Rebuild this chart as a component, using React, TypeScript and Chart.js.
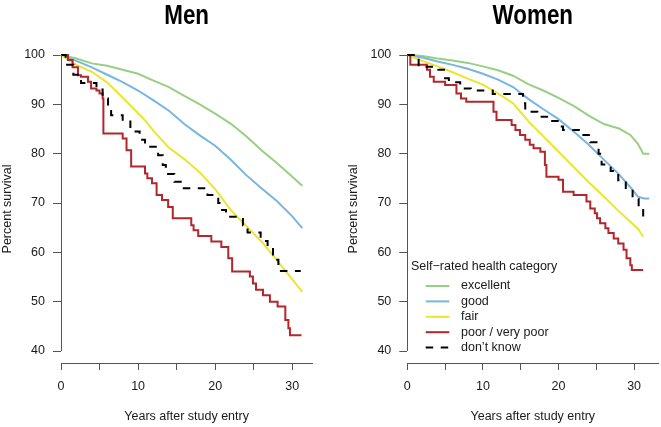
import React, { useEffect, useRef } from 'react';
import { Chart, registerables } from 'chart.js';

Chart.register(...registerables);

const FONT = "'Liberation Sans', Arial, Helvetica, sans-serif";
const TITLE_FONT = "'Liberation Sans', Arial, Helvetica, sans-serif";

// ---------- text ----------
const categories = ['excellent', 'good', 'fair', 'poor / very poor', 'don’t know'];
const legendTitle = 'Self−rated health category';
const xAxisTitle = 'Years after study entry';
const yAxisTitle = 'Percent survival';
const xTickValues = [0, 5, 10, 15, 20, 25, 30];
const xLabelEvery = 10;
const yTickValues = [40, 50, 60, 70, 80, 90, 100];

// ---------- Men ----------
const menExcellentYears = [0, 2, 4, 6, 8, 10, 12, 14, 16, 18, 20, 22, 24, 26, 28, 30, 31.3];
const menExcellentSurv = [100, 99.3, 98.3, 97.8, 97.0, 96.2, 94.8, 93.5, 91.7, 90.0, 88.1, 86.1, 83.6, 80.7, 78.1, 75.3, 73.5];

const menGoodYears = [0, 2, 4, 6, 8, 10, 12, 14, 16, 18, 20, 22, 24, 26, 28, 30, 31.3];
const menGoodSurv = [100, 98.8, 97.5, 96.0, 94.5, 92.8, 90.8, 88.7, 86.0, 83.7, 81.6, 78.8, 75.7, 73.0, 70.4, 67.3, 64.9];

const menFairYears = [0, 1, 2, 4, 6, 8, 10, 11, 12, 14, 16, 18, 20, 22, 24, 26, 28, 30, 31.3];
const menFairSurv = [100, 99.0, 98.0, 96.6, 94.4, 91.4, 88.2, 86.6, 84.6, 81.2, 78.9, 76.2, 72.8, 68.6, 65.4, 62.2, 58.4, 54.5, 52.0];

const menPoorYears = [0, 0.9, 1.5, 2.2, 2.6, 3.5, 3.9, 4.6, 5.0, 5.4, 5.5, 8.0, 8.5, 9.1, 10.9, 11.2, 11.8, 12.4, 13.1, 13.9, 14.5, 16.9, 17.2, 17.8, 19.5, 20.8, 21.7, 22.2, 24.5, 24.9, 25.3, 26.2, 27.1, 28.1, 29.1, 29.5, 29.7, 31.2];
const menPoorSurv = [100, 99.0, 97.5, 95.9, 95.6, 94.6, 93.2, 92.8, 92.2, 91.2, 84.1, 83.1, 80.7, 77.4, 76.0, 75.0, 74.0, 71.6, 70.6, 69.2, 66.9, 65.5, 64.5, 63.3, 62.2, 61.1, 58.8, 56.1, 55.1, 53.7, 52.4, 51.3, 50.0, 49.0, 46.3, 44.6, 43.2, 43.2];

const menDontKnowYears = [0, 0.6, 1.6, 2.6, 4.6, 5.4, 6.1, 6.5, 8.0, 9.0, 10.2, 10.9, 12.6, 13.2, 13.6, 14.7, 15.7, 19.0, 20.4, 20.9, 21.4, 23.6, 24.2, 25.9, 26.8, 27.5, 28.2, 31.1];
const menDontKnowSurv = [100, 98.0, 96.0, 94.3, 93.0, 91.2, 89.5, 87.8, 86.5, 84.5, 82.8, 81.4, 79.7, 77.7, 75.9, 74.3, 73.0, 71.6, 70.0, 68.6, 67.2, 65.5, 64.0, 62.3, 61.0, 58.5, 56.2, 56.2];

// ---------- Women ----------
const womenExcellentYears = [0, 2, 4, 6, 8, 10, 12, 14, 16, 18, 20, 22, 24, 26, 28, 29.5, 30.5, 31.2, 32.0];
const womenExcellentSurv = [100, 99.8, 99.3, 98.9, 98.4, 97.7, 96.9, 95.8, 94.1, 92.8, 91.3, 89.7, 87.7, 86.0, 85.1, 83.8, 82.0, 80.0, 80.0];

const womenGoodYears = [0, 2, 4, 6, 8, 10, 12, 14, 16, 18, 20, 22, 24, 26, 28, 29.5, 30.5, 31.3, 32.0];
const womenGoodSurv = [100, 99.5, 98.7, 98.0, 97.2, 96.2, 95.0, 93.5, 91.1, 89.0, 87.0, 84.5, 81.8, 78.8, 75.8, 73.2, 71.3, 70.9, 70.9];

const womenFairYears = [0, 2, 4, 6, 8, 10, 12, 14, 16, 18, 20, 22, 24, 26, 28, 29.5, 30.5, 31.2];
const womenFairSurv = [100, 98.8, 97.7, 96.5, 95.2, 94.0, 92.2, 90.2, 86.6, 83.5, 80.4, 77.3, 74.2, 71.3, 68.3, 66.2, 64.8, 63.2];

const womenPoorYears = [0, 0.4, 2.6, 3.0, 3.5, 5.0, 6.5, 7.1, 7.8, 11.4, 11.8, 13.8, 14.3, 14.9, 15.6, 16.2, 16.7, 17.6, 18.2, 18.4, 20.0, 20.6, 22.0, 23.7, 24.2, 24.8, 25.1, 25.5, 26.2, 26.6, 27.3, 27.9, 28.6, 29.0, 29.5, 29.7, 31.2];
const womenPoorSurv = [100, 98.0, 97.0, 95.6, 94.6, 93.9, 92.2, 91.2, 90.5, 88.5, 86.8, 85.8, 84.8, 83.8, 82.8, 81.8, 81.1, 80.4, 77.7, 75.3, 74.7, 72.3, 71.6, 70.3, 68.9, 67.9, 66.9, 65.9, 64.9, 63.9, 62.8, 61.8, 60.5, 58.8, 57.4, 56.4, 56.4];

const womenDontKnowYears = [0, 1.5, 4.1, 5.0, 5.5, 7.0, 8.4, 11.3, 15.3, 15.6, 17.2, 18.7, 20.2, 20.6, 23.0, 24.2, 25.3, 25.7, 26.9, 27.9, 28.9, 29.8, 30.6, 31.2];
const womenDontKnowSurv = [100, 97.6, 97.0, 95.3, 94.5, 93.2, 92.8, 92.1, 90.2, 88.5, 87.5, 86.6, 85.5, 84.8, 83.8, 82.3, 80.0, 77.8, 76.5, 74.6, 72.8, 70.8, 68.8, 66.8];

// ---------- styles ----------
const seriesColors = ['#97d083', '#78b6e1', '#ebe52e', '#b3262b', '#000000'];
const steppedSeries = [false, false, false, true, true];
const dashedSeries = [false, false, false, false, true];
const AXIS = '#555555';
const TEXT = '#1a1a1a';

type PanelSpec = {
  title: string;
  years: number[][];
  surv: number[][];
  width: number;
  xMax: number;
  yMin: number;
  padLeft: number;
  padRight: number;
  yAxisWidth: number;
  legend: boolean;
};

const panels: PanelSpec[] = [
  {
    title: 'Men',
    years: [menExcellentYears, menGoodYears, menFairYears, menPoorYears, menDontKnowYears],
    surv: [menExcellentSurv, menGoodSurv, menFairSurv, menPoorSurv, menDontKnowSurv],
    width: 330,
    xMax: 32.6,
    yMin: 37.57,
    padLeft: 0,
    padRight: 17.7,
    yAxisWidth: 61,
    legend: false,
  },
  {
    title: 'Women',
    years: [womenExcellentYears, womenGoodYears, womenFairYears, womenPoorYears, womenDontKnowYears],
    surv: [womenExcellentSurv, womenGoodSurv, womenFairSurv, womenPoorSurv, womenDontKnowSurv],
    width: 331,
    xMax: 33.2,
    yMin: 37.57,
    padLeft: 16,
    padRight: 2.7,
    yAxisWidth: 61.3,
    legend: true,
  },
];

const alignPx = (p: number) => Math.round(p - 0.5) + 0.5;

const decorPlugin = {
  id: 'decor',
  afterDraw(chart: any, _args: any, opts: any) {
    const { ctx, chartArea } = chart;
    const ys = chart.scales.y;
    // detached y axis line spanning first to last tick
    ctx.save();
    ctx.strokeStyle = AXIS;
    ctx.lineWidth = 1;
    const ax = alignPx(chartArea.left);
    ctx.beginPath();
    ctx.moveTo(ax, ys.getPixelForValue(yTickValues[0]));
    ctx.lineTo(ax, ys.getPixelForValue(yTickValues[yTickValues.length - 1]));
    ctx.stroke();

    // panel title (condensed bold)
    ctx.save();
    ctx.translate((chartArea.left + chartArea.right) / 2, 16);
    ctx.scale(0.8, 1);
    ctx.font = `bold 28px ${TITLE_FONT}`;
    ctx.fillStyle = '#000';
    ctx.textAlign = 'center';
    ctx.textBaseline = 'middle';
    ctx.fillText(opts.title, 0, 0);
    ctx.restore();

    // legend
    if (opts.legend) {
      ctx.font = `12.5px ${FONT}`;
      ctx.fillStyle = TEXT;
      ctx.textAlign = 'left';
      ctx.textBaseline = 'middle';
      const x0 = chartArea.left + 3.7;
      const y0 = chartArea.bottom - 96.3;
      ctx.fillText(legendTitle, x0, y0);
      chart.data.datasets.forEach((ds: any, i: number) => {
        const yy = y0 + 19.3 + i * 15.4;
        ctx.save();
        ctx.strokeStyle = ds.borderColor;
        ctx.lineWidth = ds.borderWidth;
        ctx.setLineDash(ds.borderDash || []);
        ctx.beginPath();
        ctx.moveTo(chartArea.left + 18.4, yy);
        ctx.lineTo(chartArea.left + 42, yy);
        ctx.stroke();
        ctx.restore();
        ctx.fillText(ds.label, chartArea.left + 53.7, yy);
      });
    }
    ctx.restore();
  },
};

function buildConfig(p: PanelSpec): any {
  const tickFont = { family: FONT, size: 12.5 };
  return {
    type: 'line',
    data: {
      datasets: categories.map((label, i) => ({
        label,
        data: p.years[i].map((t, j) => ({ x: t, y: p.surv[i][j] })),
        borderColor: seriesColors[i],
        backgroundColor: seriesColors[i],
        borderWidth: 2,
        borderDash: dashedSeries[i] ? [7.5, 7.5] : [],
        stepped: steppedSeries[i],
        pointRadius: 0,
        pointHoverRadius: 0,
        fill: false,
        tension: 0,
        clip: false,
        order: categories.length - i,
      })),
    },
    options: {
      animation: false,
      responsive: false,
      maintainAspectRatio: false,
      events: [],
      layout: { padding: { left: p.padLeft, right: p.padRight, top: 55, bottom: 0 } },
      plugins: {
        legend: { display: false },
        tooltip: { enabled: false },
        title: { display: false },
        decor: { title: p.title, legend: p.legend },
      },
      scales: {
        x: {
          type: 'linear',
          min: 0,
          max: p.xMax,
          afterBuildTicks: (s: any) => {
            s.ticks = xTickValues.map((v) => ({ value: v }));
          },
          afterFit: (s: any) => {
            s.height = 64;
          },
          ticks: {
            font: tickFont,
            color: TEXT,
            padding: 9.5,
            maxRotation: 0,
            autoSkip: false,
            callback: (v: number) => (v % xLabelEvery === 0 ? String(v) : ''),
          },
          grid: { drawOnChartArea: false, drawTicks: true, tickLength: 7, color: AXIS, lineWidth: 1 },
          border: { display: true, color: AXIS, width: 1 },
          title: {
            display: true,
            text: xAxisTitle,
            font: tickFont,
            color: TEXT,
            padding: { top: 0, bottom: 2.5 },
          },
        },
        y: {
          type: 'linear',
          min: p.yMin,
          max: 100,
          afterBuildTicks: (s: any) => {
            s.ticks = yTickValues.map((v) => ({ value: v }));
          },
          afterFit: (s: any) => {
            s.width = p.yAxisWidth;
          },
          ticks: {
            font: tickFont,
            color: TEXT,
            padding: 8,
            autoSkip: false,
            callback: (v: number) => String(v),
          },
          grid: { drawOnChartArea: false, drawTicks: true, tickLength: 8, color: AXIS, lineWidth: 1 },
          border: { display: false },
          title: {
            display: true,
            text: yAxisTitle,
            font: tickFont,
            color: TEXT,
            padding: { top: 0.5, bottom: 0 },
          },
        },
      },
    },
    plugins: [decorPlugin],
  };
}

function Panel({ spec }: { spec: PanelSpec }) {
  const ref = useRef<HTMLCanvasElement | null>(null);
  useEffect(() => {
    if (!ref.current) return;
    const chart = new Chart(ref.current, buildConfig(spec));
    return () => chart.destroy();
  }, [spec]);
  return (
    <canvas
      ref={ref}
      width={spec.width}
      height={427}
      style={{ display: 'block', width: spec.width, height: 427 }}
    />
  );
}

export default function App() {
  return (
    <div
      style={{
        position: 'absolute',
        left: 0,
        top: 0,
        width: 661,
        height: 427,
        display: 'flex',
        background: '#ffffff',
      }}
    >
      {panels.map((p) => (
        <Panel key={p.title} spec={p} />
      ))}
    </div>
  );
}
